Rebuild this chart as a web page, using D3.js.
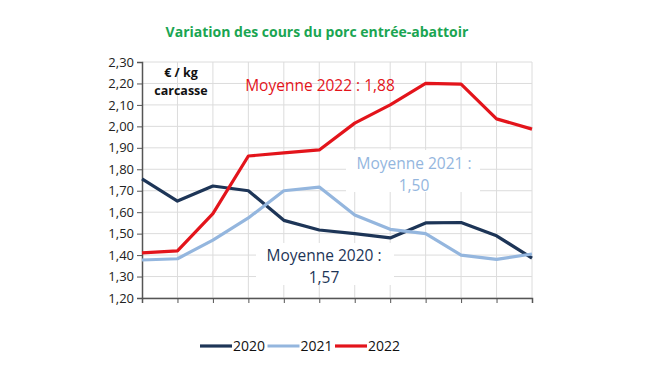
<!DOCTYPE html>
<html>
<head>
<meta charset="utf-8">
<script src="https://cdn.jsdelivr.net/npm/d3@7"></script>
<style>
  body { margin: 0; background: #fff; }
  svg { display: block; font-family: "Open Sans", sans-serif; }
</style>
</head>
<body>
<div id="chart"></div>
<script>
// monthly price points, €/kg carcass
const months = [1, 2, 3, 4, 5, 6, 7, 8, 9, 10, 11, 12];
const years = ["2020", "2021", "2022"];
const values2020 = [1.755, 1.652, 1.722, 1.70, 1.562, 1.517, 1.50, 1.48, 1.55, 1.552, 1.49, 1.386];
const values2021 = [1.377, 1.383, 1.47, 1.573, 1.70, 1.717, 1.587, 1.52, 1.50, 1.40, 1.38, 1.405];
const values2022 = [1.41, 1.42, 1.593, 1.862, 1.876, 1.89, 2.015, 2.10, 2.20, 2.197, 2.035, 1.987];
const yTicks = [1.2, 1.3, 1.4, 1.5, 1.6, 1.7, 1.8, 1.9, 2.0, 2.1, 2.2, 2.3];
const colors = ["#1d3557", "#94b6de", "#e3141b"];

const width = 650, height = 366;
const margin = { top: 62, right: 118, bottom: 68, left: 142 };

const svg = d3.select("#chart").append("svg")
    .attr("width", width)
    .attr("height", height);

const x = d3.scaleLinear().domain([1, 12]).range([margin.left, width - margin.right]);
const y = d3.scaleLinear().domain([1.2, 2.3]).range([height - margin.bottom, margin.top]);

// ---- title ----
svg.append("text")
    .attr("x", 317).attr("y", 37)
    .attr("text-anchor", "middle")
    .attr("fill", "#1aa552")
    .attr("font-weight", "bold")
    .attr("font-size", 14)
    .text("Variation des cours du porc entrée-abattoir");

// ---- grid ----
const grid = svg.append("g");
grid.selectAll(".h").data(yTicks).join("line")
    .attr("x1", x(1)).attr("x2", x(12))
    .attr("y1", d => y(d)).attr("y2", d => y(d))
    .attr("stroke", "#dcdcdc");
grid.selectAll(".v").data(months.slice(1)).join("line")
    .attr("x1", d => x(d)).attr("x2", d => x(d))
    .attr("y1", y(1.2)).attr("y2", y(2.3))
    .attr("stroke", "#dcdcdc");

// ---- axes ----
const yAxis = svg.append("g")
    .attr("transform", `translate(${x(1)},0)`)
    .call(d3.axisLeft(y).tickValues(yTicks).tickSize(5)
        .tickFormat(d => d3.format(".2f")(d).replace(".", ",")));
yAxis.select(".domain").attr("stroke", "#555").attr("stroke-width", 1.5);
yAxis.selectAll(".tick line").attr("stroke", "#555");
yAxis.selectAll("text").attr("font-size", 13).attr("fill", "#222").attr("font-family", "Open Sans");

const xAxis = svg.append("g")
    .attr("transform", `translate(0,${y(1.2)})`)
    .call(d3.axisBottom(x).tickValues(months).tickSize(5).tickFormat(""));
xAxis.select(".domain").attr("stroke", "#555").attr("stroke-width", 1.5);
xAxis.selectAll(".tick line").attr("stroke", "#555");

// ---- lines ----
const series = [values2020, values2021, values2022];
const line = d3.line().x((d, i) => x(months[i])).y(d => y(d));
svg.selectAll(".series").data(series).join("path")
    .attr("fill", "none")
    .attr("stroke", (d, i) => colors[i])
    .attr("stroke-width", 3.2)
    .attr("stroke-linejoin", "round")
    .attr("d", line);

// ---- annotations ----
function label(lines, cx, cy, color, size, weight) {
    const g = svg.append("g");
    const t = g.append("text")
        .attr("text-anchor", "middle")
        .attr("fill", color)
        .attr("font-size", size)
        .attr("font-weight", weight || "normal");
    lines.forEach((s, i) => {
        t.append("tspan").attr("x", cx).attr("y", cy + i * size * 1.4).text(s);
    });
    return g;
}

// white boxes behind average labels
svg.append("rect").attr("x", 346).attr("y", 150).attr("width", 134).attr("height", 42).attr("fill", "#fff");
svg.append("rect").attr("x", 256).attr("y", 243).attr("width", 138).attr("height", 42).attr("fill", "#fff");

label(["€ / kg", "carcasse"], 181, 77, "#111", 12.5, "bold");
label(["Moyenne 2022 : 1,88"], 320, 91, colors[2], 15.5);
label(["Moyenne 2021 :", "1,50"], 414, 169, colors[1], 15.5);
label(["Moyenne 2020 :", "1,57"], 324, 261, colors[0], 15.5);

// ---- legend ----
const legend = svg.append("g").attr("transform", "translate(200,346)");
years.forEach((yr, i) => {
    const row = legend.append("g").attr("transform", `translate(${i * 67.5},0)`);
    row.append("line")
        .attr("x1", 0).attr("x2", 32)
        .attr("stroke", colors[i]).attr("stroke-width", 3.2);
    row.append("text")
        .attr("x", 33).attr("y", 5)
        .attr("font-size", 14).attr("fill", "#111")
        .text(yr);
});
</script>
</body>
</html>
